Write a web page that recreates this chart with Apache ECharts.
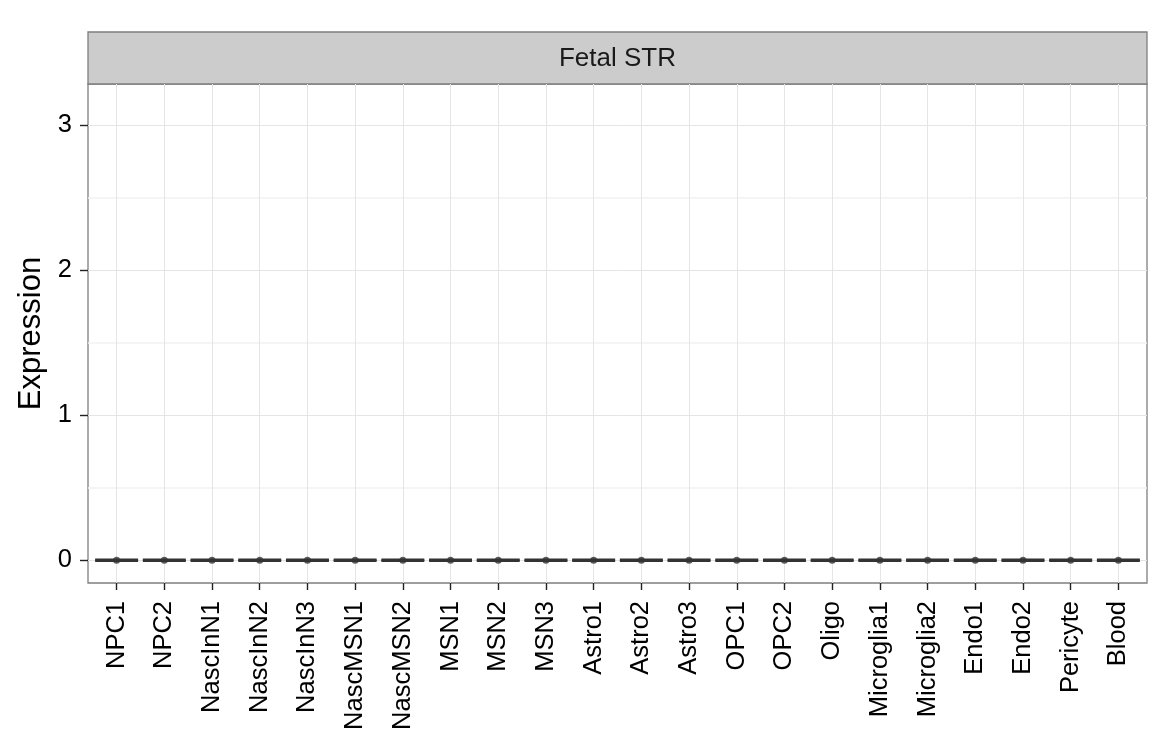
<!DOCTYPE html>
<html>
<head>
<meta charset="utf-8">
<script src="https://cdn.jsdelivr.net/npm/echarts@6/dist/echarts.min.js"></script>
<style>
  html, body { margin: 0; padding: 0; background: #fff; }
  #chart { width: 1152px; height: 738px; }
</style>
</head>
<body>
<div id="chart"></div>
<script>
const categories = ['NPC1', 'NPC2', 'NascInN1', 'NascInN2', 'NascInN3', 'NascMSN1', 'NascMSN2',
  'MSN1', 'MSN2', 'MSN3', 'Astro1', 'Astro2', 'Astro3', 'OPC1', 'OPC2', 'Oligo',
  'Microglia1', 'Microglia2', 'Endo1', 'Endo2', 'Pericyte', 'Blood']
const positions = [0, 1, 2, 3, 4, 5, 6, 7, 8, 9, 10, 11, 12, 13, 14, 15, 16, 17, 18, 19, 20, 21]

// box stats per cell type: [lower, q1, median, q3, upper]
const boxStats = [
  [0, 0, 0, 0, 0], [0, 0, 0, 0, 0], [0, 0, 0, 0, 0], [0, 0, 0, 0, 0], [0, 0, 0, 0, 0],
  [0, 0, 0, 0, 0], [0, 0, 0, 0, 0], [0, 0, 0, 0, 0], [0, 0, 0, 0, 0], [0, 0, 0, 0, 0],
  [0, 0, 0, 0, 0], [0, 0, 0, 0, 0], [0, 0, 0, 0, 0], [0, 0, 0, 0, 0], [0, 0, 0, 0, 0],
  [0, 0, 0, 0, 0], [0, 0, 0, 0, 0], [0, 0, 0, 0, 0], [0, 0, 0, 0, 0], [0, 0, 0, 0, 0],
  [0, 0, 0, 0, 0], [0, 0, 0, 0, 0]
]
const pointValues = [0, 0, 0, 0, 0, 0, 0, 0, 0, 0, 0, 0, 0, 0, 0, 0, 0, 0, 0, 0, 0, 0]

const yBreaks = [0, 1, 2, 3]
const yMinorBreaks = [0.5, 1.5, 2.5]
const facetLabel = 'Fetal STR'

const font = 'Liberation Sans, Arial, sans-serif'
const dom = echarts.init(document.getElementById('chart'))

// panel grid lines, placed in data space
const gridLines = []
yMinorBreaks.forEach(v => gridLines.push({ yAxis: v, lineStyle: { color: '#F2F2F2', width: 1.5, type: 'solid' } }))
yBreaks.forEach(v => gridLines.push({ yAxis: v, lineStyle: { color: '#E5E5E5', width: 1, type: 'solid' } }))
positions.forEach(v => gridLines.push({ xAxis: v, lineStyle: { color: '#E5E5E5', width: 1, type: 'solid' } }))

const option = {
  animation: false,
  backgroundColor: '#fff',
  grid: {
    left: 88,
    right: 5,
    top: 84,
    bottom: 155,
    show: true,
    borderColor: '#7F7F7F',
    borderWidth: 1.3,
    backgroundColor: '#fff'
  },
  graphic: [
    {
      type: 'rect',
      shape: { x: 88, y: 32, width: 1059, height: 52 },
      style: { fill: '#CCCCCC', stroke: '#7F7F7F', lineWidth: 1.3 }
    },
    {
      type: 'text',
      x: 617.5,
      y: 59,
      style: {
        text: facetLabel,
        fontFamily: font,
        fontSize: 26,
        fill: '#1A1A1A',
        align: 'center',
        verticalAlign: 'middle'
      }
    }
  ],
  xAxis: {
    type: 'value',
    min: -0.6,
    max: 21.6,
    splitLine: { show: false },
    axisLine: { show: false, onZero: false },
    axisTick: {
      show: true,
      customValues: positions,
      length: 7,
      lineStyle: { color: '#222', width: 1.4 }
    },
    axisLabel: {
      customValues: positions,
      rotate: 90,
      margin: 18,
      fontFamily: font,
      fontSize: 25.5,
      color: '#000',
      formatter: v => categories[Math.round(v)]
    }
  },
  yAxis: {
    type: 'value',
    min: -0.157,
    max: 3.283,
    name: 'Expression',
    nameLocation: 'middle',
    nameGap: 33,
    nameTextStyle: { fontFamily: font, fontSize: 31, color: '#000' },
    splitLine: { show: false },
    axisLine: { show: false, onZero: false },
    axisTick: {
      show: true,
      customValues: yBreaks,
      length: 8,
      lineStyle: { color: '#222', width: 1.4 }
    },
    axisLabel: {
      customValues: yBreaks,
      margin: 16,
      fontFamily: font,
      fontSize: 25.5,
      color: '#000'
    }
  },
  series: [
    {
      name: 'grid',
      type: 'line',
      data: [],
      silent: true,
      z: 0,
      markLine: {
        z: 0,
        silent: true,
        symbol: 'none',
        label: { show: false },
        data: gridLines
      }
    },
    {
      name: 'box',
      type: 'custom',
      z: 6,
      data: positions.map((p, i) => [p].concat(boxStats[i])),
      renderItem(params, api) {
        const x = api.value(0)
        const lo = api.coord([x, api.value(1)])
        const q1c = api.coord([x, api.value(2)])
        const q3c = api.coord([x, api.value(4)])
        const hi = api.coord([x, api.value(5)])
        const a = api.coord([x - 0.45, api.value(2)])
        const b = api.coord([x + 0.45, api.value(2)])
        const c = api.coord([x + 0.45, api.value(4)])
        const d = api.coord([x - 0.45, api.value(4)])
        const medL = api.coord([x - 0.45, api.value(3)])
        const medR = api.coord([x + 0.45, api.value(3)])
        const thin = { stroke: '#333333', lineWidth: 1.3 }
        return {
          type: 'group',
          children: [
            { type: 'line', shape: { x1: lo[0], y1: lo[1], x2: q1c[0], y2: q1c[1] }, style: thin },
            { type: 'line', shape: { x1: q3c[0], y1: q3c[1], x2: hi[0], y2: hi[1] }, style: thin },
            { type: 'polyline', shape: { points: [a, b, c, d, a] }, style: thin },
            {
              type: 'line',
              shape: { x1: medL[0], y1: medL[1], x2: medR[0], y2: medR[1] },
              style: { stroke: '#333333', lineWidth: 3.6, lineCap: 'butt' }
            }
          ]
        }
      }
    },
    {
      name: 'points',
      type: 'scatter',
      z: 7,
      symbol: 'circle',
      symbolSize: 7,
      itemStyle: { color: '#333333' },
      data: positions.map((p, i) => [p, pointValues[i]])
    }
  ]
}

dom.setOption(option)
window.addEventListener('resize', () => dom.resize())
</script>
</body>
</html>
